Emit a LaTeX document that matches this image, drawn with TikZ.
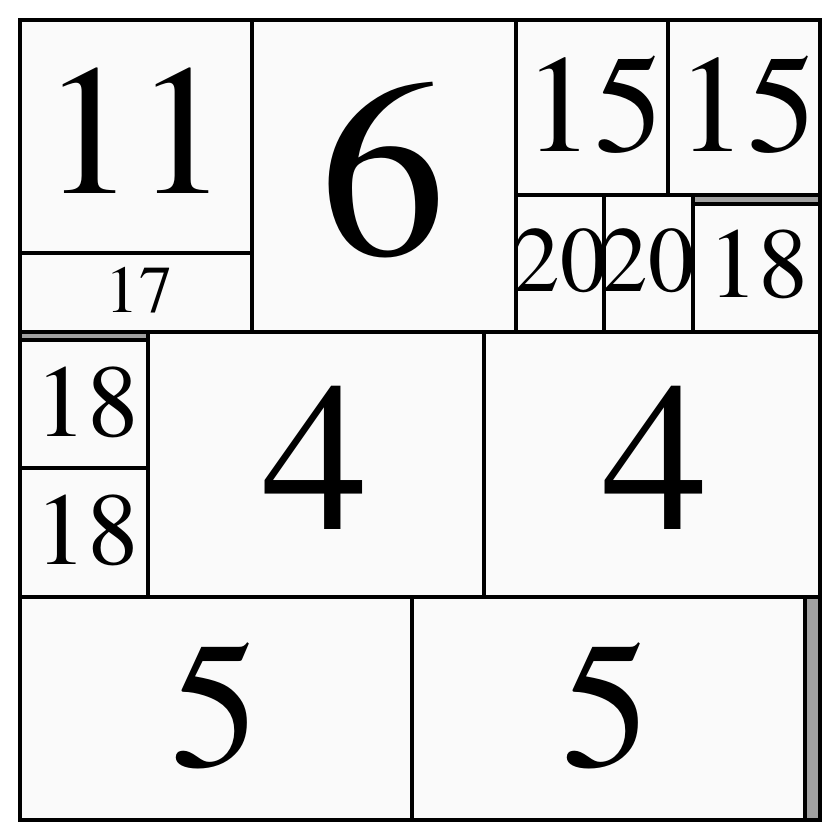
\documentclass[tikz,border=0pt]{standalone}
\usepackage{fontspec}
\setmainfont{texgyretermes-regular.otf}
\newfontfamily\numfont{texgyretermes-regular.otf}
\usepackage{xcolor}
\usepackage{tikz}
\definecolor{cellfill}{HTML}{FAFAFA}
\definecolor{gapgrey}{HTML}{A0A0A0}
\newcommand{\numsize}[1]{\numfont\fontsize{#1}{#1}\selectfont}

\begin{document}
\begin{tikzpicture}[x=0.5pt,y=-0.5pt]

\tikzset{cell/.style={fill=cellfill, draw=black, line width=1.6pt},
%label size is given in pt
numlabel/.style={inner sep=0pt, font=\numsize{#1}},
numlabel/.default={50pt}}

\useasboundingbox (0,0) rectangle (840,840);

\filldraw[fill=gapgrey, draw=black, line width=1.6pt] (20,20) rectangle (820,820);

\foreach \xa/\ya/\xb/\yb in {20/20/252/253, 20/253/252/332, 252/20/516/332,
516/20/668/195, 668/20/820/195, 516/195/604/332, 604/195/693/332, 693/204/820/332}
\filldraw[cell] (\xa,\ya) rectangle (\xb,\yb);

\foreach \xa/\ya/\xb/\yb in {20/340/148/468, 20/468/148/597, 148/332/484/597, 484/332/820/597,
20/597/412/820, 412/597/805/820}
\filldraw[cell] (\xa,\ya) rectangle (\xb,\yb);

\draw[line width=2pt] (20,20) rectangle (820,820);

\node[numlabel=93pt] (eleven) at (135,131) {11};
\node[numlabel=33.5pt] (seventeen) at (139,290) {17};
\node[numlabel=126pt] (six) at (383,170) {6};
\node[numlabel=69.5pt] (fifteenA) at (594,105) {15};
\node[numlabel=69.5pt] (fifteenB) at (747,105) {15};
\node[numlabel=46.5pt] (twentyA) at (560,261) {20};
\node[numlabel=46.5pt] (twentyB) at (648,261) {20};
\node[numlabel=50pt] (eighteenA) at (758,264) {18};

\node[numlabel=51.5pt] (eighteenB) at (87,402) {18};
\node[numlabel=51.5pt] (eighteenC) at (87,530) {18};
\node[numlabel=106pt] (fourA) at (315,458) {4};
\node[numlabel=106pt] (fourB) at (655,458) {4};

\node[numlabel=90pt] (fiveA) at (215,706) {5};
\node[numlabel=90pt] (fiveB) at (606,706) {5};

\end{tikzpicture}
\end{document}
